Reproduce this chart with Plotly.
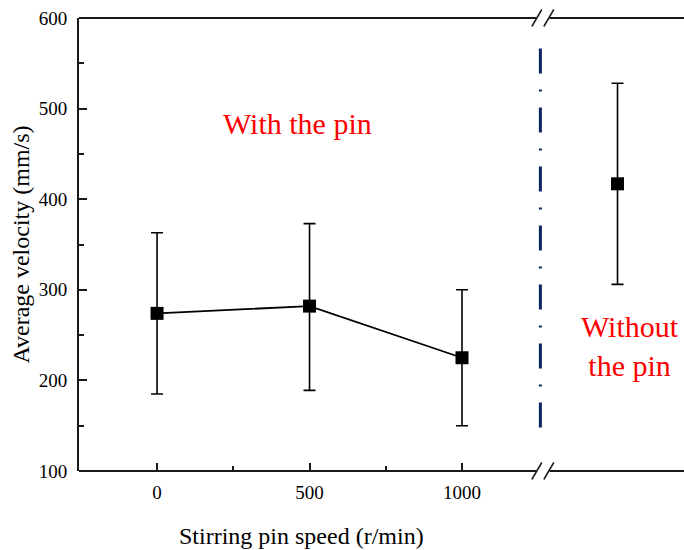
import plotly.graph_objects as go

# ---- data ----
speeds = [0, 500, 1000]
vel_with = [274, 282, 225]
err_with_plus = [89, 91, 75]
err_with_minus = [89, 93, 75]
x_without = [1510]
vel_without = [417]
err_without_plus = [111]
err_without_minus = [111]
tick_vals = [0, 500, 1000]
tick_text = ["0", "500", "1000"]

# ---- layout constants ----
X_RANGE = [-256, 1728]
Y_RANGE = [100, 600]
BREAK_X = 1265
VLINE_Y = [148, 567]
FONT = "Liberation Serif, Times New Roman, serif"
AX_COL = "#1a1a1a"

fig = go.Figure()
fig.add_trace(go.Scatter(
    x=speeds, y=vel_with, mode="lines+markers",
    line=dict(color="black", width=1.8),
    marker=dict(symbol="square", size=13, color="black"),
    error_y=dict(type="data", symmetric=False, array=err_with_plus,
                 arrayminus=err_with_minus, color="black", thickness=1.6, width=6),
    showlegend=False))
fig.add_trace(go.Scatter(
    x=x_without, y=vel_without, mode="markers",
    marker=dict(symbol="square", size=13, color="black"),
    error_y=dict(type="data", symmetric=False, array=err_without_plus,
                 arrayminus=err_without_minus, color="black", thickness=1.6, width=6),
    showlegend=False))

shapes = []
# top and bottom frame lines with a gap at the break
for yv in (0, 1):
    shapes.append(dict(type="line", xref="x", yref="paper", x0=X_RANGE[0], x1=BREAK_X - 22,
                       y0=yv, y1=yv, line=dict(color=AX_COL, width=1.8)))
    shapes.append(dict(type="line", xref="x", yref="paper", x0=BREAK_X + 22, x1=X_RANGE[1],
                       y0=yv, y1=yv, line=dict(color=AX_COL, width=1.8)))
    for off in (-6, 6):
        shapes.append(dict(type="line", xref="x", yref="paper",
                           xsizemode="pixel", ysizemode="pixel",
                           xanchor=BREAK_X, yanchor=yv,
                           x0=off - 5, x1=off + 5, y0=-8.5, y1=8.5,
                           line=dict(color=AX_COL, width=1.5)))
# dash-dot separator
shapes.append(dict(type="line", xref="x", yref="y", x0=BREAK_X - 8, x1=BREAK_X - 8,
                   y0=VLINE_Y[0], y1=VLINE_Y[1],
                   line=dict(color="#0b2463", width=3, dash="25px,16px,2px,16px")))

annotations = [
    dict(x=462, y=484, xref="x", yref="y", text="With the pin", showarrow=False,
         font=dict(family=FONT, size=30, color="#ff0000")),
    dict(x=1551, y=238, xref="x", yref="y", text="Without<br>the pin", showarrow=False,
         font=dict(family=FONT, size=30, color="#ff0000")),
    dict(x=472, y=0, xref="x", yref="paper", yanchor="middle", yshift=-65,
         text="Stirring pin speed (r/min)", showarrow=False,
         font=dict(family=FONT, size=24, color="black")),
]

fig.update_layout(
    width=684, height=550,
    margin=dict(l=79, r=0, t=18, b=79),
    paper_bgcolor="white", plot_bgcolor="white",
    font=dict(family=FONT, color="black"),
    shapes=shapes, annotations=annotations,
    xaxis=dict(range=X_RANGE, showgrid=False, zeroline=False, showline=False,
               tickmode="array", tickvals=tick_vals, ticktext=tick_text,
               ticks="inside", ticklen=8, tickwidth=1.6, tickcolor=AX_COL,
               tickfont=dict(family=FONT, size=19, color="black"),
               ticklabelstandoff=8,
               minor=dict(tickmode="array", tickvals=[250, 750], ticks="inside",
                          ticklen=5, tickwidth=1.5, tickcolor=AX_COL)),
    yaxis=dict(range=Y_RANGE, showgrid=False, zeroline=False, showline=True,
               linecolor=AX_COL, linewidth=1.8,
               tickmode="array", tickvals=[100, 200, 300, 400, 500, 600],
               ticks="inside", ticklen=8, tickwidth=1.6, tickcolor=AX_COL,
               tickfont=dict(family=FONT, size=19, color="black"),
               ticklabelstandoff=6,
               minor=dict(dtick=50, ticks="inside", ticklen=5, tickwidth=1.5,
                          tickcolor=AX_COL),
               title=dict(text="Average velocity (mm/s)", standoff=2,
                          font=dict(family=FONT, size=24, color="black"))),
)

fig.write_html("out.html")
